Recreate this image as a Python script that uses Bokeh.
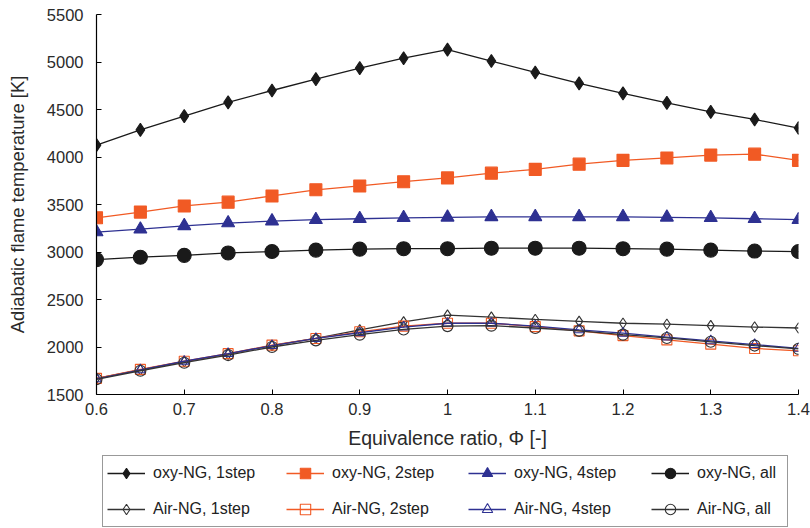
from bokeh.plotting import figure
from bokeh.layouts import column
from bokeh.models import Legend, LegendItem, FixedTicker, Range1d
from bokeh.embed import file_html
from bokeh.resources import INLINE

phi = [0.6, 0.65, 0.7, 0.75, 0.8, 0.85, 0.9, 0.95, 1.0, 1.05, 1.1, 1.15, 1.2, 1.25, 1.3, 1.35, 1.4]

oxy_1step = [4125, 4285, 4430, 4575, 4700, 4820, 4935, 5040, 5130, 5010, 4890, 4775, 4670, 4570, 4475, 4395, 4305]
oxy_2step = [3360, 3420, 3485, 3525, 3590, 3655, 3695, 3740, 3780, 3830, 3870, 3925, 3965, 3990, 4020, 4030, 3965]
oxy_4step = [3210, 3240, 3275, 3305, 3325, 3340, 3350, 3360, 3365, 3370, 3370, 3370, 3370, 3365, 3360, 3350, 3340]
oxy_all = [2920, 2945, 2965, 2990, 3005, 3020, 3030, 3035, 3035, 3040, 3040, 3040, 3035, 3030, 3020, 3010, 3005]

air_1step = [1670, 1760, 1845, 1925, 2015, 2090, 2180, 2265, 2335, 2315, 2290, 2270, 2250, 2240, 2225, 2210, 2200]
air_2step = [1670, 1765, 1850, 1930, 2020, 2090, 2160, 2220, 2250, 2250, 2215, 2170, 2120, 2075, 2030, 1985, 1960]
air_4step = [1665, 1760, 1850, 1930, 2015, 2090, 2150, 2210, 2250, 2250, 2220, 2180, 2145, 2105, 2065, 2025, 1985]
air_all = [1660, 1750, 1835, 1915, 2000, 2070, 2130, 2185, 2220, 2225, 2200, 2170, 2130, 2095, 2055, 2015, 1980]

labels = ["oxy-NG, 1step", "oxy-NG, 2step", "oxy-NG, 4step", "oxy-NG, all",
          "Air-NG, 1step", "Air-NG, 2step", "Air-NG, 4step", "Air-NG, all"]

x_ticks = [0.6, 0.7, 0.8, 0.9, 1.0, 1.1, 1.2, 1.3, 1.4]
x_tick_labels = ["0.6", "0.7", "0.8", "0.9", "1", "1.1", "1.2", "1.3", "1.4"]
y_ticks = [1500, 2000, 2500, 3000, 3500, 4000, 4500, 5000, 5500]

BLACK = "#1a1a1a"
GREY = "#333333"
RED = "#f15a24"
BLUE = "#2e3192"
FONT = "Liberation Sans"

W = 810
p = figure(width=W, height=453, x_range=Range1d(0.6, 1.4), y_range=Range1d(1500, 5500),
           output_backend="svg", toolbar_location=None,
           min_border_top=14, min_border_left=96, min_border_right=12, min_border_bottom=59)
p.outline_line_color = None
p.grid.visible = False

styles = [
    (oxy_1step, BLACK, "diamond", 13, BLACK),
    (oxy_2step, RED, "square", 12, RED),
    (oxy_4step, BLUE, "triangle", 13, BLUE),
    (oxy_all, BLACK, "circle", 14, BLACK),
    (air_1step, GREY, "diamond", 10.5, None),
    (air_2step, RED, "square", 10, None),
    (air_4step, BLUE, "triangle", 10, None),
    (air_all, GREY, "circle", 11, None),
]

# legend strip below the chart
lf = figure(width=W, height=75, x_range=Range1d(0, 1), y_range=Range1d(0, 1),
            output_backend="svg", toolbar_location=None,
            x_axis_location=None, y_axis_location=None,
            min_border_top=0, min_border_left=0, min_border_right=0, min_border_bottom=0)
lf.grid.visible = False
lf.outline_line_color = None

items = []
for (vals, col, mk, sz, fill), lab in zip(styles, labels):
    kw = dict(line_color=col, line_width=1.1, fill_color=fill, fill_alpha=1.0 if fill else 0.0)
    p.line(phi, vals, line_color=col, line_width=1.3)
    p.scatter(phi, vals, marker=mk, size=sz, **kw)
    # legend proxies (same data, outside the strip's visible range)
    ln = lf.line(phi, vals, line_color=col, line_width=1.3)
    sc = lf.scatter(phi, vals, marker=mk, size=sz, **kw)
    items.append(LegendItem(label=lab, renderers=[ln, sc]))

common = dict(orientation="vertical", label_text_font=FONT, label_text_font_size="16px",
              label_text_color="#222222", glyph_width=38, glyph_height=26,
              label_standoff=8, spacing=10, padding=4, margin=0, label_width=630)

# offsets from the strip's frame (aligned with the chart's frame)
col_x = [6, 190, 372, 555]
for i in range(4):
    col_items = [items[i], items[i + 4]]
    if i == 0:
        lg = Legend(items=col_items, location=(col_x[i], 1),
                    border_line_color="#333333", border_line_width=1,
                    background_fill_color="white", background_fill_alpha=1.0, **common)
    else:
        lg = Legend(items=col_items, location=(col_x[i], 6),
                    border_line_color=None, background_fill_alpha=0.0, **common)
    lf.add_layout(lg, "center")

for ax in (p.xaxis[0], p.yaxis[0]):
    ax.axis_line_color = "black"
    ax.axis_line_width = 1.2
    ax.major_tick_line_color = "black"
    ax.major_tick_in = 5
    ax.major_tick_out = 0
    ax.minor_tick_line_color = None
    ax.major_label_text_font = FONT
    ax.major_label_text_font_size = "16.5px"
    ax.major_label_text_color = "#2a2a2a"
    ax.axis_label_text_font = FONT
    ax.axis_label_text_font_style = "normal"
    ax.axis_label_text_color = "#2a2a2a"

p.xaxis.ticker = FixedTicker(ticks=x_ticks)
p.xaxis.major_label_overrides = {t: s for t, s in zip(x_ticks, x_tick_labels)}
p.xaxis.axis_label = "Equivalence ratio, Φ [-]"
p.xaxis.axis_label_text_font_size = "19.5px"
p.xaxis.major_label_standoff = 8
p.xaxis.axis_label_standoff = 9

p.yaxis.ticker = FixedTicker(ticks=y_ticks)
p.yaxis.axis_label = "Adiabatic flame temperature [K]"
p.yaxis.axis_label_text_font_size = "18.4px"
p.yaxis.major_label_standoff = 13
p.yaxis.axis_label_standoff = 16

layout = column(p, lf, spacing=0)
open("out.html", "w").write(file_html(layout, INLINE))
